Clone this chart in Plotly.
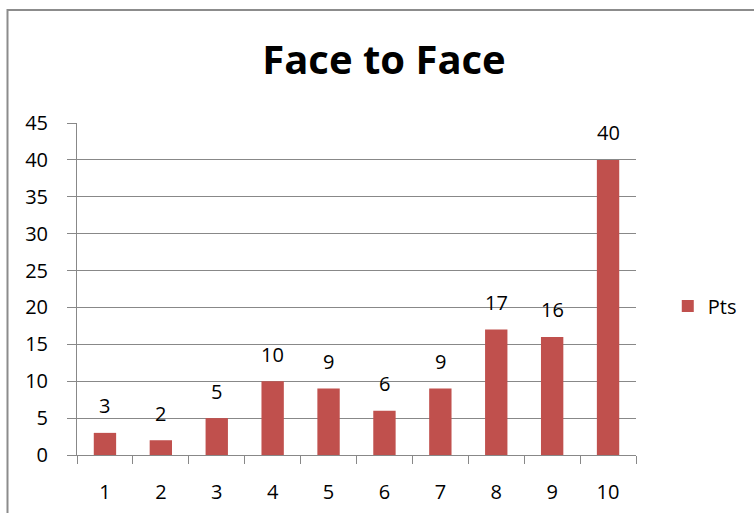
import plotly.graph_objects as go

# Points per round
rounds = ["1", "2", "3", "4", "5", "6", "7", "8", "9", "10"]
pts = [3, 2, 5, 10, 9, 6, 9, 17, 16, 40]
y_ticks = [0, 5, 10, 15, 20, 25, 30, 35, 40, 45]

W, H = 754, 513
L, R, T, B = 77, 114, 123, 58

FONT = "Open Sans, Liberation Sans, sans-serif"
GRID = "#888888"
LABEL_SIZE = 20

fig = go.Figure()
fig.add_trace(go.Bar(
    x=rounds,
    y=pts,
    name="Pts",
    marker=dict(color="#C0504D", line=dict(width=0)),
    width=0.4,
    cliponaxis=False,
))

# value labels above each bar (category axis positions by index)
for i, v in enumerate(pts):
    fig.add_annotation(
        x=i, y=v, text=str(v), showarrow=False,
        xanchor="center", yanchor="middle", yshift=27,
        font=dict(family=FONT, size=LABEL_SIZE, color="#000000"),
    )

plot_w = W - L - R
plot_h = H - T - B

fig.update_layout(
    width=W,
    height=H,
    margin=dict(l=L, r=R, t=T, b=B, pad=0),
    paper_bgcolor="white",
    plot_bgcolor="white",
    font=dict(family=FONT, size=LABEL_SIZE, color="#000000"),
    title=dict(
        text="<b>Face to Face</b>",
        font=dict(family=FONT, size=40, color="#000000"),
        x=384 / W, xanchor="center",
        y=1 - 60 / H, yanchor="middle",
    ),
    showlegend=True,
    legend=dict(
        x=(672 - L) / plot_w, xanchor="left",
        y=(H - B - 306) / plot_h, yanchor="middle",
        font=dict(family=FONT, size=LABEL_SIZE),
        bgcolor="rgba(0,0,0,0)",
    ),
    bargap=0.6,
    xaxis=dict(
        type="category",
        range=[-0.5, len(rounds) - 0.5],
        showline=True, linecolor=GRID, linewidth=1,
        ticks="outside", ticklen=8, tickcolor=GRID, tickson="boundaries",
        showgrid=False,
        tickfont=dict(family=FONT, size=LABEL_SIZE),
        ticklabelstandoff=19,
        automargin=False,
        fixedrange=True,
    ),
    yaxis=dict(
        range=[0, 45],
        tickvals=y_ticks,
        showline=True, linecolor=GRID, linewidth=1,
        ticks="outside", ticklen=9, tickcolor=GRID,
        showgrid=True, gridcolor=GRID, gridwidth=1,
        zeroline=False,
        tickfont=dict(family=FONT, size=LABEL_SIZE),
        ticklabelstandoff=15,
        automargin=False,
        fixedrange=True,
    ),
    shapes=[
        # chart frame
        dict(
            type="rect", xref="paper", yref="paper",
            x0=(7 - L) / plot_w, x1=(W + 10 - L) / plot_w,
            y0=(H - B - (H + 10)) / plot_h, y1=(H - B - 10) / plot_h,
            line=dict(color="#8C8C8C", width=2),
            fillcolor="rgba(0,0,0,0)",
            layer="below",
        )
    ],
)

fig.write_html("out.html")
